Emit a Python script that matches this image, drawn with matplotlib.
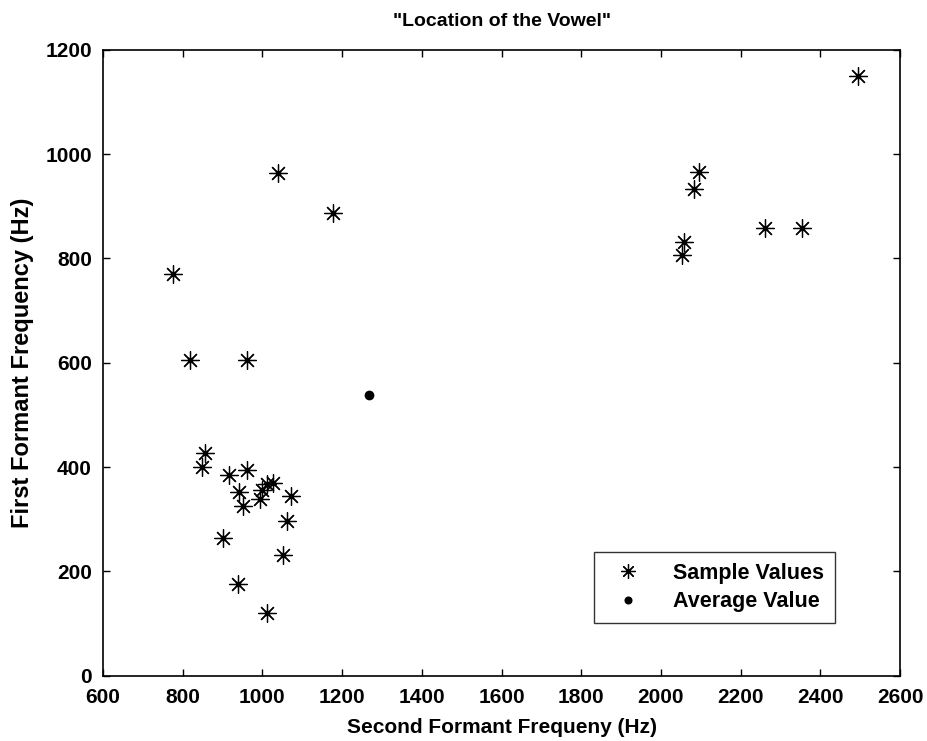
import matplotlib.pyplot as plt

plt.rcParams['font.family'] = ['Liberation Sans', 'DejaVu Sans']

# second formant (x) and first formant (y) of each sample, in Hz
f2_samples = [775, 1040, 1178, 818, 961,
              856, 848, 916, 962, 942, 952, 994, 1000, 1012, 1026, 1072,
              1062, 902, 1052, 938, 1011,
              2096, 2082, 2059, 2054, 2261, 2353, 2495]
f1_samples = [770, 963, 887, 606, 606,
              427, 401, 384, 395, 352, 325, 339, 357, 367, 369, 344,
              296, 264, 232, 176, 120,
              965, 933, 832, 807, 859, 859, 1150]

f2_avg = [1267]
f1_avg = [539]

fig = plt.figure(figsize=(9.27, 7.41), dpi=100)
ax = fig.add_axes([0.111, 0.088, 0.860, 0.845])

# asterisk markers with a dark centre, like the printed MATLAB plot
ax.plot(f2_samples, f1_samples, linestyle='none', marker=(8, 2, 0),
        markersize=13, color='black', markeredgewidth=0.9, label='Sample Values')
ax.plot(f2_samples, f1_samples, linestyle='none', marker='s',
        markersize=3.5, color='black')
ax.plot(f2_avg, f1_avg, linestyle='none', marker='o', markersize=6,
        color='black', label='Average Value')

ax.set_xlim(600, 2600)
ax.set_ylim(0, 1200)
ax.set_xticks(range(600, 2601, 200))
ax.set_yticks(range(0, 1201, 200))
ax.tick_params(direction='in', top=True, right=True, length=5, width=1,
               labelsize=15)
ax.tick_params(axis='x', pad=9)
ax.tick_params(axis='y', pad=8)
for lab in ax.get_xticklabels() + ax.get_yticklabels():
    lab.set_fontweight('bold')
for s in ax.spines.values():
    s.set_linewidth(1.2)

ax.set_title('"Location of the Vowel"', fontsize=14, fontweight='bold', pad=17)
ax.set_xlabel('Second Formant Frequeny (Hz)', fontsize=15, fontweight='bold',
              labelpad=8)
ax.set_ylabel('First Formant Frequency (Hz)', fontsize=17, fontweight='bold',
              labelpad=8)

leg = ax.legend(loc='lower right', bbox_to_anchor=(0.932, 0.067),
                frameon=True, fancybox=False, edgecolor='black',
                borderpad=0.5, handletextpad=1.0, handlelength=2.2,
                labelspacing=0.35, markerscale=0.8,
                prop={'weight': 'bold', 'size': 15.5})
leg.get_frame().set_linewidth(1)

fig.savefig('out.png', dpi=100)
